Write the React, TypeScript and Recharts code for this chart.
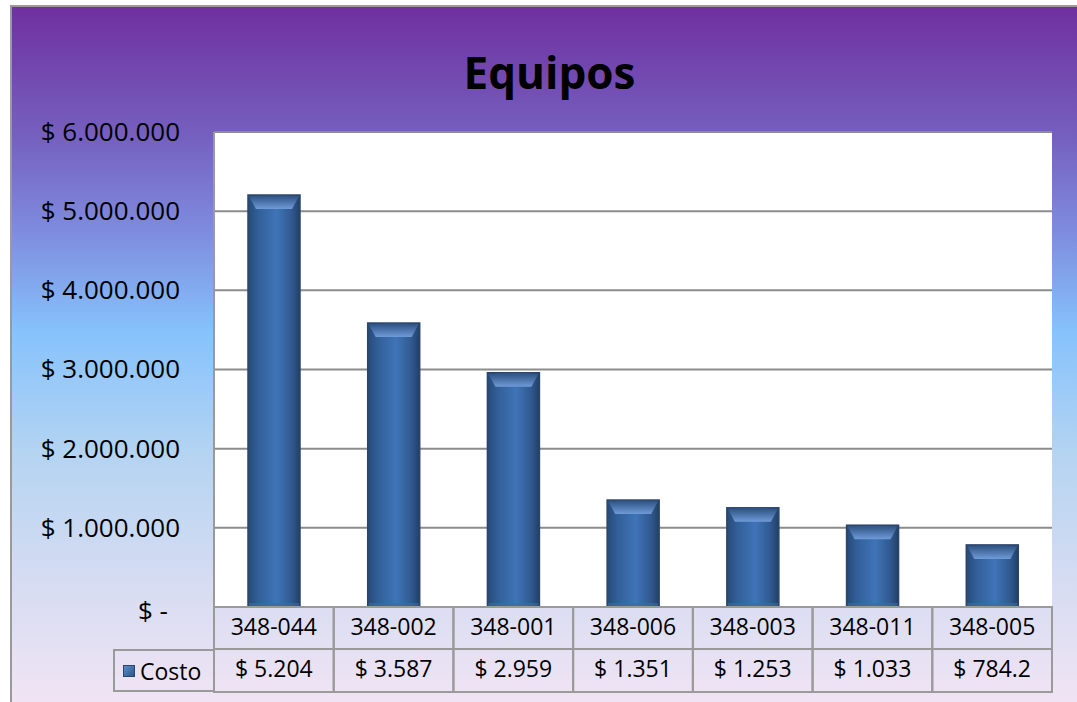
import React from 'react';
import {
  BarChart, Bar, XAxis, YAxis, CartesianGrid,
} from 'recharts';

const categories = ['348-044', '348-002', '348-001', '348-006', '348-003', '348-011', '348-005'];
const costs = [5204000, 3587000, 2959000, 1351000, 1253000, 1033000, 784200];
const costLabels = ['$ 5.204', '$ 3.587', '$ 2.959', '$ 1.351', '$ 1.253', '$ 1.033', '$ 784.2'];
const yTicks = [0, 1000000, 2000000, 3000000, 4000000, 5000000, 6000000];
const seriesName = 'Costo';

const data = categories.map((c, i) => ({ code: c, costo: costs[i], label: costLabels[i] }));

const FONT = '"Open Sans", "Noto Sans", sans-serif';
const BAND = (1052 - 214) / categories.length;

const fmtMoney = (v: number) => {
  if (v === 0) return '$ -';
  return '$ ' + String(Math.round(v)).replace(/\B(?=(\d{3})+(?!\d))/g, '.');
};

const YTick = (props: any) => {
  const { y, payload } = props;
  const isZero = payload.value === 0;
  return (
    <text x={isZero ? 168 : 180} y={y + (isZero ? 6 : 2)} textAnchor="end" dominantBaseline="middle"
      fontFamily={FONT} fontSize={26} fill="#000">
      {fmtMoney(payload.value)}
    </text>
  );
};

const CatTick = (props: any) => {
  const { x, y, payload } = props;
  const w = payload.offset ? payload.offset * 2 : BAND;
  return (
    <g>
      <rect x={x - w / 2} y={y} width={w} height={42} fill="none" stroke="#9a9a9a" strokeWidth={2} />
      <text x={x} y={y + 22} textAnchor="middle" dominantBaseline="middle" fontFamily={FONT} fontSize={23} fill="#000">
        {payload.value}
      </text>
    </g>
  );
};

const ValTick = (props: any) => {
  const { x, y, index } = props;
  const w = props.payload.offset ? props.payload.offset * 2 : BAND;
  return (
    <g>
      <rect x={x - w / 2} y={y} width={w} height={43} fill="none" stroke="#9a9a9a" strokeWidth={2} />
      <text x={x} y={y + 22} textAnchor="middle" dominantBaseline="middle" fontFamily={FONT} fontSize={23} fill="#000">
        {costLabels[index]}
      </text>
    </g>
  );
};

const BarShape = (props: any) => {
  const { x, y, width, height } = props;
  if (!height || height <= 0) return null;
  const b = Math.min(14, height / 3);
  return (
    <g>
      <rect x={x} y={y} width={width} height={height} fill="url(#barGrad)" stroke="#2b4569" strokeWidth={1.5} />
      <path d={`M${x + 1},${y + 1} L${x + width - 1},${y + 1} L${x + width - 8},${y + b} L${x + 8},${y + b} Z`}
        fill="url(#bevelGrad)" />
      <rect x={x + 1} y={y + height - 4} width={width - 2} height={3} fill="#3a6aa8" opacity={0.6} />
    </g>
  );
};

export default function App() {
  return (
    <div style={{ position: 'absolute', left: 0, top: 0, width: 1077, height: 702, overflow: 'hidden', background: '#fff' }}>
      <div style={{
        position: 'absolute', left: 10, top: 5, width: 1100, height: 720,
        borderLeft: '2px solid #9a9a9a', borderTop: '2px solid #9a9a9a',
        background: 'linear-gradient(to bottom, #7030a0 0%, #7560bf 18%, #7f8fe0 32%, #86c2fc 45%, #b4d4f2 62%, #d6dcf2 80%, #f6e6f4 100%)',
      }} />
      <div style={{
        position: 'absolute', left: 0, top: 42, width: 1077, textAlign: 'center',
        fontFamily: FONT, fontWeight: 700, fontSize: 44, color: '#000', paddingLeft: 22,
        boxSizing: 'border-box',
      }}>
        Equipos
      </div>
      <div style={{ position: 'absolute', left: 0, top: 0 }}>
        <BarChart width={1077} height={702} data={data} margin={{ top: 132, right: 25, bottom: 10, left: 0 }}>
          <defs>
            <linearGradient id="barGrad" x1="0" y1="0" x2="1" y2="0">
              <stop offset="0%" stopColor="#274a78" />
              <stop offset="20%" stopColor="#325f98" />
              <stop offset="55%" stopColor="#3f74b8" />
              <stop offset="85%" stopColor="#30588e" />
              <stop offset="100%" stopColor="#223f66" />
            </linearGradient>
            <linearGradient id="bevelGrad" x1="0" y1="0" x2="0" y2="1">
              <stop offset="0%" stopColor="#2f5384" />
              <stop offset="100%" stopColor="#6f9bd8" />
            </linearGradient>
          </defs>
          <CartesianGrid vertical={false} stroke="#8c8c8c" strokeWidth={2} fill="#ffffff" fillOpacity={1} />
          <YAxis width={214} domain={[0, 6000000]} ticks={yTicks} interval={0}
            axisLine={{ stroke: '#9a9a9a', strokeWidth: 2 }} tickLine={false} tick={<YTick />} />
          <XAxis dataKey="code" height={42} interval={0} tickSize={0} tickMargin={0}
            axisLine={{ stroke: '#9a9a9a', strokeWidth: 2 }} tickLine={false} tick={<CatTick />} />
          <XAxis xAxisId="val" dataKey="code" height={43} interval={0} tickSize={0} tickMargin={0}
            axisLine={false} tickLine={false} tick={<ValTick />} />
          <Bar dataKey="costo" name={seriesName} barSize={52} shape={<BarShape />} isAnimationActive={false} />
        </BarChart>
      </div>
      <div style={{
        position: 'absolute', left: 113, top: 649, width: 101, height: 43, boxSizing: 'border-box',
        border: '2px solid #9a9a9a', borderRight: 'none',
        display: 'flex', alignItems: 'center', gap: 5, paddingLeft: 8,
        fontFamily: FONT, fontSize: 23, color: '#000',
      }}>
        <span style={{
          width: 12, height: 12, display: 'inline-block', boxSizing: 'border-box',
          background: 'linear-gradient(135deg, #5b8ed0, #2d5588)', border: '1px solid #2b4569',
        }} />
        <span>{seriesName}</span>
      </div>
    </div>
  );
}
